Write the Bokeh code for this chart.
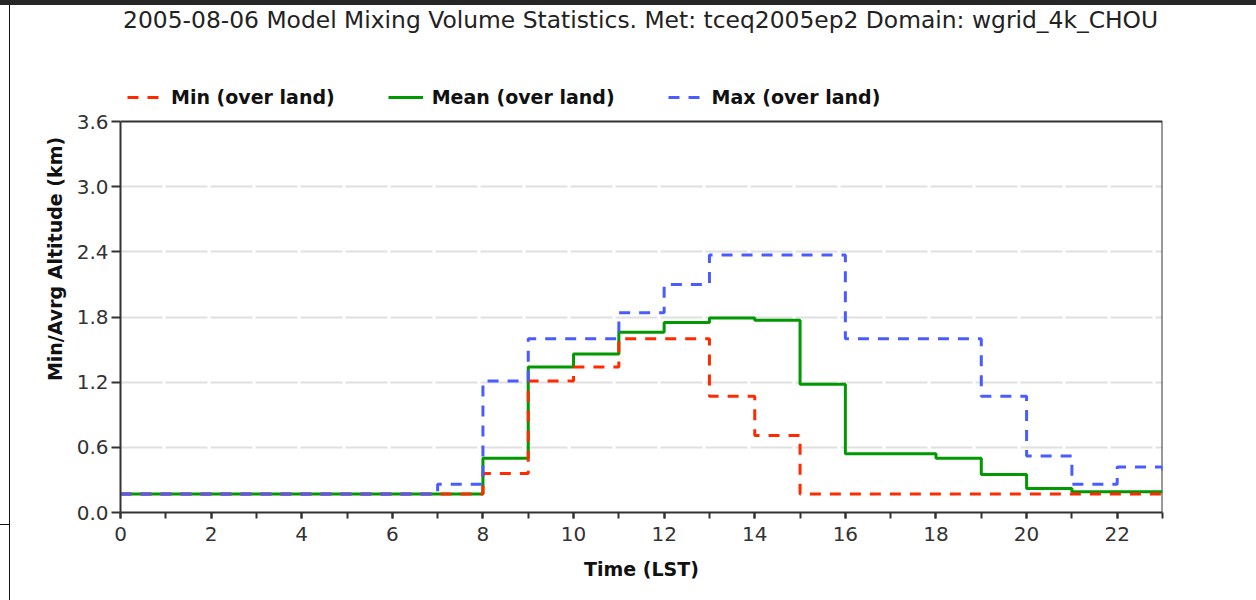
from bokeh.plotting import figure
from bokeh.layouts import column, row
from bokeh.models import (Range1d, FixedTicker, PrintfTickFormatter, Legend,
                          LegendItem, Label, Div)
from bokeh.embed import file_html
from bokeh.resources import INLINE

# Hourly mixing-height statistics (km), hour h holds until h+1
hours = [0, 1, 2, 3, 4, 5, 6, 7, 8, 9, 10, 11,
         12, 13, 14, 15, 16, 17, 18, 19, 20, 21, 22, 23]
min_km = [0.17, 0.17, 0.17, 0.17, 0.17, 0.17, 0.17, 0.17, 0.36, 1.21, 1.34, 1.60,
          1.60, 1.07, 0.71, 0.17, 0.17, 0.17, 0.17, 0.17, 0.17, 0.17, 0.17, 0.17]
mean_km = [0.17, 0.17, 0.17, 0.17, 0.17, 0.17, 0.17, 0.17, 0.50, 1.34, 1.46, 1.66,
           1.75, 1.79, 1.77, 1.18, 0.54, 0.54, 0.50, 0.35, 0.22, 0.19, 0.19, 0.19]
max_km = [0.17, 0.17, 0.17, 0.17, 0.17, 0.17, 0.17, 0.26, 1.21, 1.60, 1.60, 1.84,
          2.10, 2.37, 2.37, 2.37, 1.60, 1.60, 1.60, 1.07, 0.52, 0.26, 0.42, 0.35]

x_major = [0, 2, 4, 6, 8, 10, 12, 14, 16, 18, 20, 22]
y_major = [0.0, 0.6, 1.2, 1.8, 2.4, 3.0, 3.6]
y_grid = [0.6, 1.2, 1.8, 2.4, 3.0]

title_text = "2005-08-06 Model Mixing Volume Statistics. Met: tceq2005ep2 Domain: wgrid_4k_CHOU"
series_names = ["Min (over land)", "Mean (over land)", "Max (over land)"]

FONT = "DejaVu Sans"
RED, GREEN, BLUE = "#ff2a00", "#009900", "#4a5cff"
AXIS = "#333333"

# The frame runs up to the top of the canvas so the title and legend sit
# inside it; the plotted box itself spans 0..Y_MAX on the value axis.
X_MAX, Y_MAX = 23, 3.6
FRAME_H, BOX_H = 507, 391
y_top = Y_MAX * FRAME_H / BOX_H

p = figure(width=1246, height=595, output_backend="svg", toolbar_location=None,
           title=None, x_range=Range1d(0, X_MAX), y_range=Range1d(0, y_top),
           min_border_left=110, min_border_right=94,
           min_border_top=0, min_border_bottom=88,
           background_fill_color="white", border_fill_color="white", margin=0)
p.outline_line_color = None

# axes
for ax in (p.xaxis[0], p.yaxis[0]):
    ax.axis_line_color = AXIS
    ax.axis_line_width = 2
    ax.major_tick_line_color = AXIS
    ax.major_tick_line_width = 2
    ax.major_tick_in = 0
    ax.major_label_text_font = FONT
    ax.major_label_text_font_size = "20px"
    ax.major_label_text_color = AXIS
    ax.axis_label_text_font = FONT
    ax.axis_label_text_font_size = "19px"
    ax.axis_label_text_font_style = "bold"
    ax.axis_label_text_color = "#111111"

p.xaxis.ticker = FixedTicker(ticks=x_major, minor_ticks=hours)
p.xaxis.major_tick_out = 6
p.xaxis.minor_tick_line_color = AXIS
p.xaxis.minor_tick_line_width = 2
p.xaxis.minor_tick_in = 0
p.xaxis.minor_tick_out = 6
p.xaxis.major_label_standoff = 8
p.xaxis.axis_label = "Time (LST)"
p.xaxis.axis_label_standoff = 14

p.yaxis.ticker = FixedTicker(ticks=y_major, minor_ticks=[])
p.yaxis.bounds = (0, Y_MAX)
p.yaxis.formatter = PrintfTickFormatter(format="%.1f")
p.yaxis.major_tick_out = 9
p.yaxis.major_label_standoff = 3
p.yaxis.axis_label = "Min/Avrg Altitude (km)"
p.yaxis.axis_label_standoff = 8

# grid
p.xgrid.grid_line_color = None
p.ygrid.ticker = FixedTicker(ticks=y_grid)
p.ygrid.grid_line_color = "#e0e0e0"
p.ygrid.grid_line_width = 2
p.ygrid.grid_line_dash = "42 3"

# top and right edges of the plot box
p.line([0, X_MAX, X_MAX], [Y_MAX, Y_MAX, 0], line_color=AXIS, line_width=2)

# series
r_mean = p.step(hours, mean_km, mode="after", line_color=GREEN, line_width=3)
r_min = p.step(hours, min_km, mode="after", line_color=RED, line_width=3,
               line_dash="11 9")
r_max = p.step(hours, max_km, mode="after", line_color=BLUE, line_width=3,
               line_dash="11 9")

legend = Legend(items=[LegendItem(label=series_names[0], renderers=[r_min]),
                       LegendItem(label=series_names[1], renderers=[r_mean]),
                       LegendItem(label=series_names[2], renderers=[r_max])],
                orientation="horizontal", location=(7, 404),
                glyph_width=35, glyph_height=20, label_standoff=9, spacing=53,
                padding=0, margin=0, border_line_color=None,
                background_fill_alpha=0,
                label_text_font=FONT, label_text_font_size="19px",
                label_text_font_style="bold", label_text_color="#111111")
p.add_layout(legend, "center")

p.add_layout(Label(x=11.48, y=4.53, text=title_text, text_align="center",
                   text_baseline="middle", text_font=FONT,
                   text_font_size="23.4px", text_color="#222222"))

# page frame: dark bar along the top, thin rule down the left side with a
# short notch on its outer edge
top_bar = Div(width=1256, height=5, margin=0,
              styles={"background-color": "#262626"})
left_strip = column(
    Div(width=9, height=519, margin=0),
    Div(width=9, height=1, margin=0, styles={"background-color": "#111111"}),
    Div(width=9, height=75, margin=0),
    spacing=0, margin=0)
left_rule = Div(width=1, height=595, margin=0,
                styles={"background-color": "#111111"})
page = column(top_bar, row(left_strip, left_rule, p, spacing=0, margin=0),
              spacing=0, margin=0)

open("out.html", "w").write(file_html(page, INLINE))
